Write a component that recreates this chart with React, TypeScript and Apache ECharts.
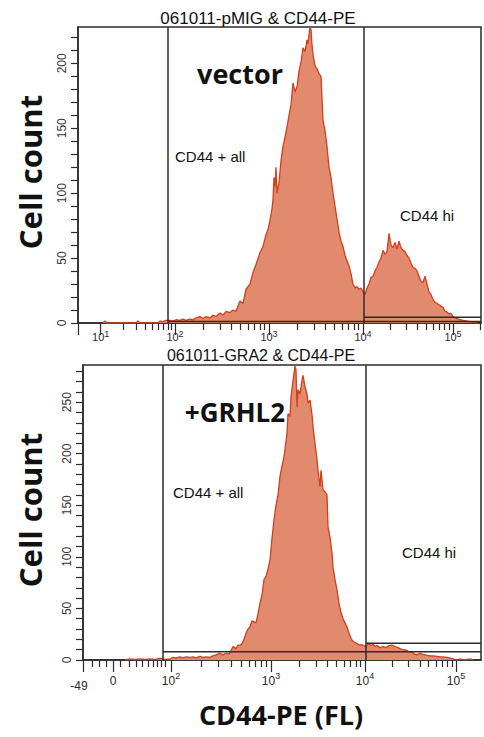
import React, { useEffect, useRef } from 'react';
import * as echarts from 'echarts';

const W = 484;
const H = 737;

// ---------- Top panel: 061011-pMIG & CD44-PE (vector) ----------
// x = display channel on the biexponential CD44-PE scale, y = cell count
const topChannel = [25, 27, 29, 58, 60, 62,
  80, 82, 85, 88, 92, 95, 98, 102, 105, 108,
  112, 115, 118, 122, 125, 128, 132, 135, 138, 142,
  145, 148, 152, 155, 158, 162, 165, 168, 172, 175,
  178, 182, 185, 188, 190, 192, 194, 195, 196, 197,
  198, 199, 201, 203, 205, 207, 209, 211, 213, 215,
  217, 219, 221, 223, 225, 227, 229, 230, 231, 232,
  233, 234, 235, 237, 239, 241, 243, 245, 247, 249,
  251, 253, 255, 257, 259, 261, 263, 265, 267, 269,
  271, 273, 275, 277, 279, 281, 283, 285, 287, 289,
  291, 293, 295, 297, 299, 301, 303, 305, 307, 309,
  311, 313, 315, 317, 319, 321, 323, 325, 327, 329,
  331, 333, 335, 337, 339, 341, 343, 345, 347, 349,
  351, 353, 355, 357, 359, 361, 363, 365, 367, 369,
  371, 373, 375, 377, 379, 382, 385, 389, 392, 396,
  400];
const topCount = [0, 1.5, 0, 0, 1.5, 0,
  0, 1.5, 1, 2, 2, 1.5, 2.5, 2, 3, 2,
  3, 2.5, 4, 5, 3.5, 5, 4, 6, 5, 7.7,
  6, 9, 8, 10, 9, 17, 15, 26, 30, 39,
  45, 54, 59, 68, 72, 79, 88, 95, 112, 105,
  120, 100, 108, 125, 136, 143, 151, 160, 168, 185,
  178, 182, 194, 201, 212, 209, 218, 215, 222, 228,
  226, 214, 207, 198, 196, 192, 190, 156, 148, 136,
  120, 112, 100, 90, 80, 70, 63, 59, 52, 48,
  44, 38, 30, 27, 28, 26, 27, 24, 22, 27,
  30, 35, 36, 40, 43, 47, 50, 56, 53, 55,
  69, 60, 58, 62, 57, 63, 58, 56, 55, 52,
  50, 46, 43, 42, 40, 36, 32, 31, 36, 30,
  24, 22, 18, 16, 15, 14, 13, 12, 9, 8.5,
  7, 7.5, 5, 4, 3.5, 2.5, 2, 1.5, 1, 0.5,
  0];
const topMaxChannel = 403;
const topMaxCount = 228;
const topDecadeChannel = [22.7, 97, 191, 285, 375];
const topDecadeExp = ['1', '2', '3', '4', '5'];
const topGateX = [90, 286];
const topGateLow = 1.2;
const topGateHigh = 4.4;

// ---------- Bottom panel: 061011-GRA2 & CD44-PE (+GRHL2) ----------
const bottomChannel = [42, 47, 52, 57, 62, 67, 72, 77, 82, 87,
  90, 93, 97, 100, 103, 107, 110, 113, 117, 120,
  123, 127, 130, 133, 137, 140, 143, 146, 148, 150,
  153, 155, 157, 159, 161, 163, 165, 167, 169, 171,
  173, 175, 177, 179, 181, 183, 185, 187, 189, 191,
  193, 195, 197, 199, 201, 203, 204, 205, 207, 208,
  210, 212, 213, 214, 215, 217, 219, 220, 222, 224,
  225, 227, 229, 230, 232, 234, 235, 237, 238, 240,
  242, 244, 245, 247, 249, 250, 252, 254, 256, 258,
  260, 262, 264, 266, 268, 270, 272, 274, 276, 278,
  280, 282, 284, 286, 288, 290, 292, 294, 297, 300,
  303, 306, 309, 312, 315, 317, 320, 323, 326, 329,
  331, 334, 337, 340, 343, 347, 350, 354, 357, 360,
  364, 367, 370, 373, 378, 380, 388, 390];
const bottomCount = [0, 1, 0.5, 1, 0.5, 1, 0.5, 1.5, 0.5, 1,
  2.5, 2, 3, 2, 3, 2.5, 3, 2, 3.5, 2.5,
  3, 2.5, 4, 5, 6.5, 5, 6.5, 6, 9, 13,
  11, 14.5, 14, 16, 20, 26, 30, 32, 38, 37,
  36, 45, 55, 63, 78, 81, 88, 97, 118, 136,
  150, 160, 178, 188, 197, 212, 220, 239, 236, 255,
  271, 285, 281, 245, 262, 258, 271, 276, 265, 258,
  249, 252, 238, 226, 210, 194, 184, 168, 184, 165,
  163, 160, 129, 119, 104, 90, 78, 68, 55, 46,
  40, 36, 32, 26, 21, 18, 17, 16, 14.5, 15,
  14.5, 13, 14, 16, 14, 15.5, 13, 14, 12, 13,
  12, 14, 14.5, 13, 12, 11, 10, 9.7, 8, 8,
  6, 5, 6.5, 5.5, 4.8, 4, 3.9, 3.5, 3.2, 3,
  2.6, 1.9, 1, 0, 1, 0, 1, 0];
const bottomMaxChannel = 398;
const bottomMaxCount = 286;
const bottomDecadeChannel = [88, 188, 282, 373];
const bottomDecadeExp = ['2', '3', '4', '5'];
const bottomLinearLabelChannel = [0, 30];
const bottomLinearLabels = ['-49', '0'];
const bottomLinearTicks = [9, 16, 23.7, 37.7, 46, 53.7, 59.7, 65, 70, 74, 78, 82];
const bottomGateX = [80, 283];
const bottomGateLow = 8;
const bottomGateHigh = 16.2;

const yLabelValues = [0, 50, 100, 150, 200, 250];

const FILL = 'rgb(226,138,110)';
const STROKE = 'rgb(212,62,28)';
const INK = '#2b2b2b';
const FONT = "'Liberation Sans', Arial, sans-serif";
const BOLD_FONT = "'Open Sans', 'Liberation Sans', Arial, sans-serif";

function logMinorTicks(decades: number[], max: number): number[] {
  const out: number[] = [];
  for (let i = 0; i < decades.length; i++) {
    const w = i < decades.length - 1 ? decades[i + 1] - decades[i] : decades[i] - decades[i - 1];
    for (let k = 2; k <= 9; k++) {
      const v = decades[i] + w * Math.log10(k);
      if (v <= max) out.push(v);
    }
  }
  return out;
}

function range(step: number, max: number): number[] {
  const out: number[] = [];
  for (let v = 0; v <= max; v += step) out.push(v);
  return out;
}

function makeRich(base: number, lh: number) {
  return {
    b: { fontSize: base, fontFamily: FONT, color: INK, lineHeight: lh, verticalAlign: 'bottom' },
    s: { fontSize: 9, fontFamily: FONT, color: INK, lineHeight: 10, verticalAlign: 'top' },
    neg: { fontSize: 12, fontFamily: FONT, color: INK, lineHeight: 16, padding: [13, 8, 0, 0] },
  };
}

const axisLineStyle = { color: INK, width: 1.5 };
const tickStyle = { color: INK, width: 1.2 };

function xAxes(gridIndex: number, max: number, majorTicks: number[], minorTicks: number[], labelValues: number[], fmt: (v: number) => string, margin: number, rich: any) {
  return [
    {
      type: 'value', gridIndex, min: 0, max, position: 'bottom',
      axisLine: { show: true, onZero: false, lineStyle: axisLineStyle },
      axisTick: { show: true, customValues: majorTicks, length: 12, lineStyle: tickStyle },
      axisLabel: { show: true, customValues: labelValues, formatter: fmt, margin, rich },
      splitLine: { show: false },
    },
    {
      type: 'value', gridIndex, min: 0, max, position: 'bottom',
      axisLine: { show: false },
      axisTick: { show: true, customValues: minorTicks, length: 7, lineStyle: tickStyle },
      axisLabel: { show: false },
      splitLine: { show: false },
    },
  ];
}

function yAxis(gridIndex: number, max: number) {
  return {
    type: 'value', gridIndex, min: 0, max,
    axisLine: { show: true, onZero: false, lineStyle: axisLineStyle },
    axisTick: { show: true, customValues: range(10, max), length: 7, lineStyle: tickStyle },
    axisLabel: {
      customValues: yLabelValues.filter((v) => v <= max),
      rotate: 90, margin: 10, fontSize: 12, fontFamily: FONT, color: '#333',
    },
    splitLine: { show: false },
  };
}

function histSeries(xAxisIndex: number, yAxisIndex: number, xs: number[], ys: number[]) {
  return {
    type: 'line', xAxisIndex, yAxisIndex,
    data: xs.map((x, i) => [x, ys[i]]),
    symbol: 'none', showSymbol: false,
    lineStyle: { color: STROKE, width: 1.3 },
    areaStyle: { color: FILL, opacity: 1 },
    z: 2,
  };
}

function segment(xAxisIndex: number, yAxisIndex: number, a: number[], b: number[]) {
  return {
    type: 'line', xAxisIndex, yAxisIndex,
    data: [a, b], symbol: 'none', showSymbol: false,
    lineStyle: { color: INK, width: 1.5 }, z: 3, silent: true,
  };
}

function text(t: string, x: number, y: number, font: string, align = 'left', rotation = 0, z = 60) {
  return {
    type: 'text', x, y, rotation, z,
    style: { text: t, font, fill: '#111', align, verticalAlign: 'middle', textAlign: align, textVerticalAlign: 'middle' },
  };
}

export default function App() {
  const ref = useRef<HTMLDivElement>(null);
  useEffect(() => {
    if (!ref.current) return;
    const chart = echarts.init(ref.current, null, { renderer: 'svg', width: W, height: H });

    const topMajor = [0, ...topDecadeChannel];
    const topMinor = logMinorTicks(topDecadeChannel, topMaxChannel);
    const bottomMajor = [...bottomLinearLabelChannel, ...bottomDecadeChannel];
    const bottomMinor = [...bottomLinearTicks, ...logMinorTicks(bottomDecadeChannel, bottomMaxChannel)];

    const topFmt = (v: number) => {
      const i = topDecadeChannel.findIndex((c) => Math.abs(c - v) < 0.01);
      return i >= 0 ? `{b|10}{s|${topDecadeExp[i]}}` : '';
    };
    const bottomFmt = (v: number) => {
      const i = bottomDecadeChannel.findIndex((c) => Math.abs(c - v) < 0.01);
      if (i >= 0) return `{b|10}{s|${bottomDecadeExp[i]}}`;
      const j = bottomLinearLabelChannel.findIndex((c) => Math.abs(c - v) < 0.01);
      if (j === 0) return `{neg|${bottomLinearLabels[j]}}`;
      return j >= 0 ? `{b|${bottomLinearLabels[j]}}` : '';
    };

    const option = {
      animation: false,
      backgroundColor: '#fff',
      grid: [
        { left: 78, top: 27, width: 403, height: 296, show: true, borderColor: INK, borderWidth: 1.5, backgroundColor: 'transparent' },
        { left: 83, top: 365, width: 398, height: 295, show: true, borderColor: INK, borderWidth: 1.5, backgroundColor: 'transparent' },
      ],
      xAxis: [
        ...xAxes(0, topMaxChannel, topMajor, topMinor, topDecadeChannel, topFmt, 6, makeRich(11, 13)),
        ...xAxes(1, bottomMaxChannel, bottomMajor, bottomMinor, [...bottomLinearLabelChannel, ...bottomDecadeChannel], bottomFmt, 11, makeRich(12, 16)),
      ],
      yAxis: [yAxis(0, topMaxCount), yAxis(1, bottomMaxCount)],
      series: [
        histSeries(0, 0, topChannel, topCount),
        segment(0, 0, [topGateX[0], 0], [topGateX[0], topMaxCount]),
        segment(0, 0, [topGateX[1], 0], [topGateX[1], topMaxCount]),
        segment(0, 0, [topGateX[0], topGateLow], [topMaxChannel, topGateLow]),
        segment(0, 0, [topGateX[1], topGateHigh], [topMaxChannel, topGateHigh]),
        histSeries(2, 1, bottomChannel, bottomCount),
        segment(2, 1, [bottomGateX[0], 0], [bottomGateX[0], bottomMaxCount]),
        segment(2, 1, [bottomGateX[1], 0], [bottomGateX[1], bottomMaxCount]),
        segment(2, 1, [bottomGateX[0], bottomGateLow], [bottomMaxChannel, bottomGateLow]),
        segment(2, 1, [bottomGateX[1], bottomGateHigh], [bottomMaxChannel, bottomGateHigh]),
      ],
      graphic: [
        text('061011-pMIG & CD44-PE', 258, 18, `17px ${FONT}`, 'center'),
        text('061011-GRA2 & CD44-PE', 261, 355, `16px ${FONT}`, 'center'),
        text('vector', 240, 73, `bold 27px ${BOLD_FONT}`, 'center'),
        text('+GRHL2', 235, 412, `bold 26px ${BOLD_FONT}`, 'center'),
        text('CD44 + all', 175, 156, `15px ${FONT}`),
        text('CD44 hi', 400, 215, `15px ${FONT}`),
        text('CD44 + all', 173, 492, `15px ${FONT}`),
        text('CD44 hi', 402, 552, `15px ${FONT}`),
        text('Cell count', 30, 172, `bold 31px ${BOLD_FONT}`, 'center', Math.PI / 2),
        text('Cell count', 30, 510, `bold 31px ${BOLD_FONT}`, 'center', Math.PI / 2),
        text('CD44-PE (FL)', 281, 714, `bold 27px ${BOLD_FONT}`, 'center'),
      ],
    };
    chart.setOption(option as any);
    return () => chart.dispose();
  }, []);
  return <div ref={ref} style={{ position: 'fixed', left: 0, top: 0, width: W, height: H, background: '#fff' }} />;
}
